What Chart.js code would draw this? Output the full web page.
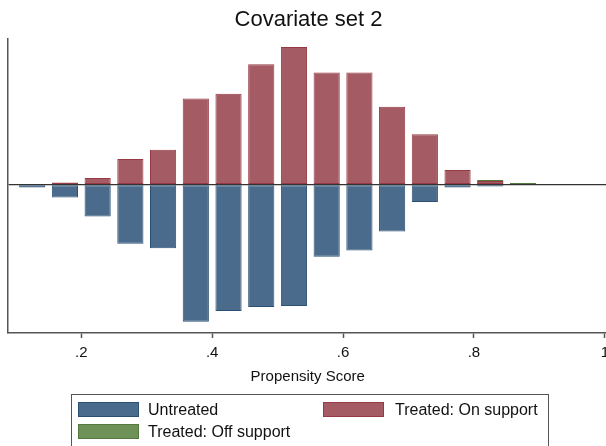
<!DOCTYPE html>
<html>
<head>
<meta charset="utf-8">
<script src="https://cdn.jsdelivr.net/npm/chart.js@4"></script>
<style>
  html, body { margin: 0; padding: 0; background: #fff; }
  body { width: 606px; height: 446px; overflow: hidden; position: relative; font-family: "Liberation Sans", Arial, sans-serif; }
  #wrap { position: absolute; left: 0; top: 0; width: 615px; height: 446px; }
  #legend { position: absolute; left: 71px; top: 394px; width: 478px; height: 70px; border: 1px solid #555; box-sizing: border-box; }
  .item { position: absolute; height: 16px; line-height: 16px; font-size: 16px; color: #111; white-space: nowrap; }
  .sw { position: absolute; width: 59px; height: 13px; border: 1px solid; }
</style>
</head>
<body>
<div id="wrap"><canvas id="grafico" width="615" height="446"></canvas></div>
<div id="legend"></div>
<script>
// bins of the propensity score (bin centers, width .05)
const bins = [0.125, 0.175, 0.225, 0.275, 0.325, 0.375, 0.425, 0.475, 0.525, 0.575, 0.625, 0.675, 0.725, 0.775, 0.825, 0.875];
// mirrored histogram heights (untreated drawn below zero)
const untreated = [-0.27, -1.27, -3.17, -5.9, -6.33, -13.67, -12.6, -12.2, -12.1, -7.2, -6.57, -4.67, -1.73, -0.27, -0.17, 0];
const treatedOn = [0, 0.23, 0.67, 2.57, 3.5, 8.6, 9.07, 12.03, 13.73, 11.2, 11.2, 7.77, 5.03, 1.47, 0.37, 0];
const treatedOff = [0, 0, 0, 0, 0, 0, 0, 0, 0, 0, 0, 0, 0, 0, 0.47, 0.17];
const seriesNames = ['Untreated', 'Treated: On support', 'Treated: Off support'];
const tickValues = [0.2, 0.4, 0.6, 0.8, 1];
const tickLabels = ['.2', '.4', '.6', '.8', '1'];

const colores = [
    { fill: '#4a6b8b', line: '#2c5075' },
    { fill: '#a55b63', line: '#963a45' },
    { fill: '#6e9157', line: '#55783c' }
];

function puntos(vals) {
    return bins.map(function(b, i) { return { x: b, y: vals[i] }; });
}

const fuente = '"Liberation Sans", Arial, sans-serif';
const ctx = document.getElementById('grafico');

new Chart(ctx, {
    type: 'bar',
    data: {
        datasets: [untreated, treatedOn, treatedOff].map(function(vals, i) {
            return {
                label: seriesNames[i],
                data: puntos(vals),
                backgroundColor: colores[i].fill,
                borderColor: colores[i].line,
                borderWidth: 1,
                borderSkipped: false,
                grouped: false,
                barPercentage: 0.8,
                categoryPercentage: 1.0,
                order: i
            };
        })
    },
    options: {
        responsive: false,
        devicePixelRatio: 1,
        animation: false,
        layout: { padding: { left: 8, right: 6, top: 0, bottom: 56 } },
        plugins: {
            legend: { display: false },
            tooltip: { enabled: false },
            title: {
                display: true,
                text: 'Covariate set 2',
                color: '#111',
                font: { family: fuente, size: 22, weight: 'normal' },
                padding: { top: 7, bottom: 5 }
            }
        },
        scales: {
            x: {
                type: 'linear',
                offset: false,
                min: 0.088,
                max: 1.004,
                afterBuildTicks: function(axis) {
                    axis.ticks = tickValues.map(function(v) { return { value: v }; });
                },
                ticks: {
                    color: '#111',
                    font: { family: fuente, size: 15 },
                    padding: 6,
                    maxRotation: 0,
                    autoSkip: false,
                    callback: function(value) {
                        const k = tickValues.indexOf(value);
                        return k >= 0 ? tickLabels[k] : '';
                    }
                },
                grid: {
                    offset: false,
                    drawOnChartArea: false,
                    drawTicks: true,
                    tickLength: 5,
                    tickColor: '#555',
                    tickWidth: 1.5
                },
                border: { display: true, color: '#555', width: 1.5 },
                title: {
                    display: true,
                    text: 'Propensity Score',
                    color: '#111',
                    font: { family: fuente, size: 15 },
                    padding: { top: 0, bottom: 4 }
                }
            },
            y: {
                min: -14.8,
                max: 14.6,
                afterBuildTicks: function(axis) {
                    axis.ticks = [{ value: 0 }];
                },
                ticks: { display: false },
                grid: { drawTicks: false, color: '#333', lineWidth: 1.3 },
                border: { display: true, color: '#555', width: 1.5 }
            }
        }
    }
});

// leyenda con recuadro, como en el original
const leyenda = document.getElementById('legend');
const posiciones = [
    { sx: 6, tx: 76, y: 7 },
    { sx: 251, tx: 323, y: 7 },
    { sx: 6, tx: 76, y: 29 }
];
seriesNames.forEach(function(nombre, i) {
    const p = posiciones[i];
    const sw = document.createElement('div');
    sw.className = 'sw';
    sw.style.left = p.sx + 'px';
    sw.style.top = p.y + 'px';
    sw.style.background = colores[i].fill;
    sw.style.borderColor = colores[i].line;
    leyenda.appendChild(sw);
    const tx = document.createElement('div');
    tx.className = 'item';
    tx.style.left = p.tx + 'px';
    tx.style.top = p.y + 'px';
    tx.textContent = nombre;
    leyenda.appendChild(tx);
});
</script>
</body>
</html>
